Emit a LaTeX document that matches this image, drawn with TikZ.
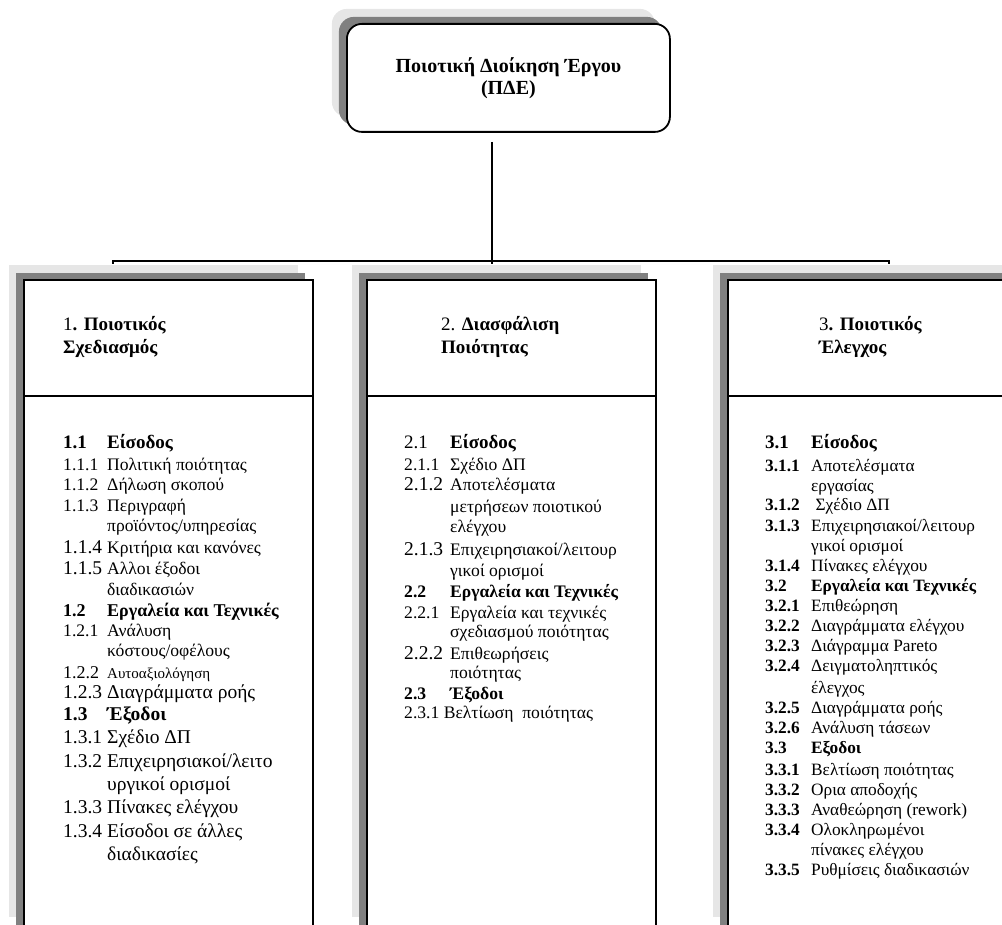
\documentclass[tikz,border=0pt]{standalone}
\usepackage{fontspec}
\setmainfont{Liberation Serif}
\usetikzlibrary{shadows}
\definecolor{shlight}{HTML}{E6E6E6}
\definecolor{shdark}{HTML}{808080}
\newcommand\lgnum{\fontsize{19.5}{22}\selectfont}
\newcommand\smtxt{\fontsize{15}{18}\selectfont}
\newcommand\entry[4]{\node[entry] (#1) at (#2,#3) {#4};}
\tikzset{
  shadowed/.style={
    general shadow={shadow xshift=-15pt,shadow yshift=15pt,fill=shlight,draw=none},
    general shadow={shadow xshift=-8pt,shadow yshift=7pt,fill=shdark,draw=none}},
  titlebox/.style={shadowed,draw=black,fill=white,line width=1.8pt,rounded corners=15pt,
    minimum width=323pt,minimum height=108pt,inner sep=0pt,anchor=north west,align=center,
    font=\fontsize{20}{22}\selectfont\bfseries},
  colbox/.style={shadowed,draw=black,fill=white,line width=1.8pt,
    minimum width=289pt,minimum height=652pt,inner sep=0pt,anchor=north west},
  conn/.style={line width=1.4pt,black},
  divider/.style={line width=1.4pt,black},
  head/.style={anchor=base west,inner sep=0pt,font=\fontsize{19}{22}\selectfont},
  entry/.style={anchor=base west,inner sep=0pt,font=\fontsize{17.6}{20}\selectfont},
  entryR/.style={entry,font=\fontsize{17.3}{20}\selectfont},
}
\newcommand\entryR[4]{\node[entryR] (#1) at (#2,#3) {#4};}
\begin{document}
\begin{tikzpicture}[x=1pt,y=-1pt]
\useasboundingbox (0,0) rectangle (1002,925);
\clip (0,0) rectangle (1002,925);

% top: project quality management
\node[titlebox] (pde) at (346,23) {Ποιοτική Διοίκηση Έργου\\(ΠΔΕ)};

% tree connectors
\coordinate (hub) at (492,261);
\coordinate (j1) at (113,264);
\coordinate (j2) at (492,264);
\coordinate (j3) at (889,264);
\draw[conn] ([yshift=-9pt]pde.south -| hub) -- (j2);
\draw[conn] (j1) |- (hub) -| (j3);

% three process boxes
\coordinate (hdr) at (0,396);
\node[colbox] (c1) at (23,279) {};
\node[colbox] (c2) at (366,279) {};
\node[colbox] (c3) at (727,279) {};
\foreach \c in {c1,c2,c3}
  \draw[divider] (\c.west |- hdr) -- (\c.east |- hdr);

% headers
\node[head] (h1a) at (63,331) {1\textbf{. Ποιοτικός}};
\node[head] (h1b) at (63,354) {\textbf{Σχεδιασμός}};
\node[head] (h2a) at (441,331) {2. \textbf{Διασφάλιση}};
\node[head] (h2b) at (441,354) {\textbf{Ποιότητας}};
\node[head] (h3a) at (819,331) {3\textbf{. Ποιοτικός}};
\node[head] (h3b) at (819,354) {\textbf{Έλεγχος}};

% 1. quality planning
\entry{a1}{63}{448}{\bfseries\fontsize{19}{22}\selectfont\makebox[44pt][l]{1.1}Είσοδος}
\entry{a2}{63}{470}{\makebox[44pt][l]{1.1.1}Πολιτική ποιότητας}
\entry{a3}{63}{490}{\makebox[44pt][l]{1.1.2}Δήλωση σκοπού}
\entry{a4}{63}{511}{\makebox[44pt][l]{1.1.3}Περιγραφή}
\entry{a5}{107}{531}{προϊόντος/υπηρεσίας}
\entry{a6}{63}{553}{\makebox[44pt][l]{\lgnum 1.1.4}Κριτήρια και κανόνες}
\entry{a7}{63}{574}{\makebox[44pt][l]{\lgnum 1.1.5}Αλλοι έξοδοι}
\entry{a8}{107}{595}{διαδικασιών}
\entry{a9}{63}{616}{\bfseries\fontsize{18}{21}\selectfont\makebox[44pt][l]{1.2}Εργαλεία και Τεχνικές}
\entry{a10}{63}{636}{\makebox[44pt][l]{1.2.1}Ανάλυση}
\entry{a11}{107}{656}{κόστους/οφέλους}
\entry{a12}{63}{678}{\makebox[44pt][l]{\fontsize{18}{21}\selectfont 1.2.2}\smtxt Αυτοαξιολόγηση}
\entry{a13}{63}{698}{\lgnum\makebox[44pt][l]{1.2.3}Διαγράμματα ροής}
\entry{a14}{63}{720}{\lgnum\bfseries\makebox[44pt][l]{1.3}Έξοδοι}
\entry{a15}{63}{743}{\lgnum\makebox[44pt][l]{1.3.1}Σχέδιο ΔΠ}
\entry{a16}{63}{767}{\lgnum\makebox[44pt][l]{1.3.2}Επιχειρησιακοί/λειτο}
\entry{a17}{107}{790}{\lgnum υργικοί ορισμοί}
\entry{a18}{63}{813}{\lgnum\makebox[44pt][l]{1.3.3}Πίνακες ελέγχου}
\entry{a19}{63}{837}{\lgnum\makebox[44pt][l]{1.3.4}Είσοδοι σε άλλες}
\entry{a20}{107}{860}{\lgnum διαδικασίες}

% 2. quality assurance
\entry{b1}{404}{448}{\fontsize{19}{22}\selectfont\makebox[46pt][l]{2.1}\textbf{Είσοδος}}
\entry{b2}{404}{470}{\makebox[46pt][l]{2.1.1}Σχέδιο ΔΠ}
\entry{b3}{404}{490}{\makebox[46pt][l]{\lgnum 2.1.2}Αποτελέσματα}
\entry{b4}{450}{512}{μετρήσεων ποιοτικού}
\entry{b5}{450}{532}{ελέγχου}
\entry{b6}{404}{555}{\makebox[46pt][l]{\lgnum 2.1.3}Επιχειρησιακοί/λειτουρ}
\entry{b7}{450}{576}{γικοί ορισμοί}
\entry{b8}{404}{597}{\bfseries\makebox[46pt][l]{2.2}Εργαλεία και Τεχνικές}
\entry{b9}{404}{618}{\makebox[46pt][l]{2.2.1}Εργαλεία και τεχνικές}
\entry{b10}{450}{637}{σχεδιασμού ποιότητας}
\entry{b11}{404}{659}{\makebox[46pt][l]{\lgnum 2.2.2}Επιθεωρήσεις}
\entry{b12}{450}{678}{ποιότητας}
\entry{b13}{404}{699}{\bfseries\makebox[46pt][l]{2.3}Έξοδοι}
\entry{b14}{404}{718}{2.3.1 Βελτίωση\ \ ποιότητας}

% 3. quality control
\entryR{d1}{765}{448}{\bfseries\fontsize{19}{22}\selectfont\makebox[46pt][l]{3.1}Είσοδος}
\entryR{d2}{765}{471}{\makebox[46pt][l]{\bfseries 3.1.1}Αποτελέσματα}
\entryR{d3}{811}{491}{εργασίας}
\entryR{d4}{765}{510}{\makebox[46pt][l]{\bfseries 3.1.2}\ Σχέδιο ΔΠ}
\entryR{d5}{765}{531}{\makebox[46pt][l]{\bfseries 3.1.3}Επιχειρησιακοί/λειτουρ}
\entryR{d6}{811}{551}{γικοί ορισμοί}
\entryR{d7}{765}{571}{\makebox[46pt][l]{\bfseries 3.1.4}Πίνακες ελέγχου}
\entryR{d8}{765}{591}{\bfseries\makebox[46pt][l]{3.2}Εργαλεία και Τεχνικές}
\entryR{d9}{765}{611}{\makebox[46pt][l]{\bfseries 3.2.1}Επιθεώρηση}
\entryR{d10}{765}{631}{\makebox[46pt][l]{\bfseries 3.2.2}Διαγράμματα ελέγχου}
\entryR{d11}{765}{651}{\makebox[46pt][l]{\bfseries 3.2.3}Διάγραμμα Pareto}
\entryR{d12}{765}{671}{\makebox[46pt][l]{\bfseries 3.2.4}Δειγματοληπτικός}
\entryR{d13}{811}{693}{έλεγχος}
\entryR{d14}{765}{713}{\makebox[46pt][l]{\bfseries 3.2.5}Διαγράμματα ροής}
\entryR{d15}{765}{733}{\makebox[46pt][l]{\bfseries 3.2.6}Ανάλυση τάσεων}
\entryR{d16}{765}{753}{\bfseries\makebox[46pt][l]{3.3}Εξοδοι}
\entryR{d17}{765}{775}{\makebox[46pt][l]{\bfseries 3.3.1}Βελτίωση ποιότητας}
\entryR{d18}{765}{795}{\makebox[46pt][l]{\bfseries 3.3.2}Ορια αποδοχής}
\entryR{d19}{765}{815}{\makebox[46pt][l]{\bfseries 3.3.3}Αναθεώρηση (rework)}
\entryR{d20}{765}{835}{\makebox[46pt][l]{\bfseries 3.3.4}Ολοκληρωμένοι}
\entryR{d21}{811}{855}{πίνακες ελέγχου}
\entryR{d22}{765}{875}{\makebox[46pt][l]{\bfseries 3.3.5}Ρυθμίσεις διαδικασιών}
\end{tikzpicture}
\end{document}
